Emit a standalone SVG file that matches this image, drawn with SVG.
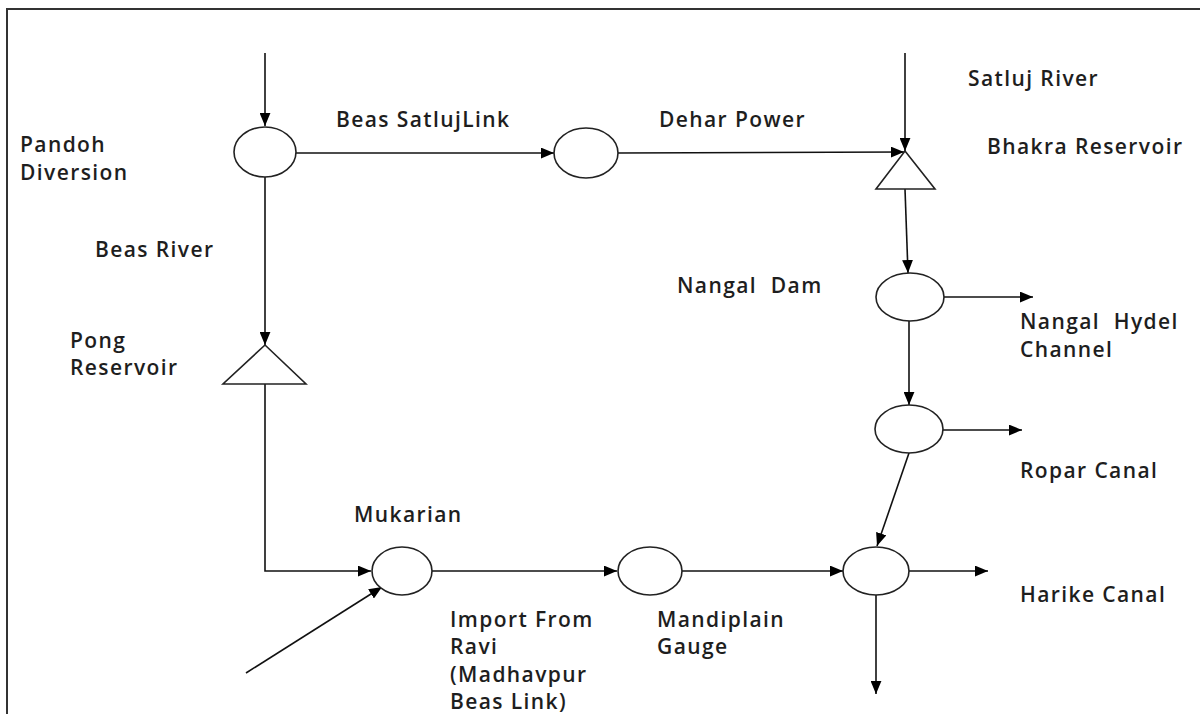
<svg xmlns="http://www.w3.org/2000/svg" width="1200" height="714" viewBox="0 0 1200 714">
<style>
.node{fill:#fff;stroke:#222;stroke-width:1.6}
.edge{fill:none;stroke:#111;stroke-width:1.6}
.lbl{font-family:"Open Sans","Liberation Sans",sans-serif;font-size:21px;font-weight:600;letter-spacing:1.4px;fill:#1e1e1e}
</style>
<defs>
<marker id="ah" viewBox="0 0 12 10" refX="12" refY="5" markerWidth="13" markerHeight="11" markerUnits="userSpaceOnUse" orient="auto">
<path d="M0,0 L12,5 L0,10 Z" fill="#000"/>
</marker>
</defs>
<rect width="1200" height="714" fill="#fff"/>
<g id="frame"><path d="M7,714 V9 H1200" fill="none" stroke="#333" stroke-width="2"/></g>
<g id="connectors">
<line class="edge" x1="265" y1="53" x2="265" y2="126" marker-end="url(#ah)"/>
<line class="edge" x1="296" y1="153" x2="554" y2="153" marker-end="url(#ah)"/>
<line class="edge" x1="618" y1="153" x2="904" y2="152" marker-end="url(#ah)"/>
<line class="edge" x1="905" y1="53" x2="905" y2="151" marker-end="url(#ah)"/>
<line class="edge" x1="905" y1="189" x2="908" y2="273" marker-end="url(#ah)"/>
<line class="edge" x1="944" y1="297" x2="1033" y2="297" marker-end="url(#ah)"/>
<line class="edge" x1="909" y1="321" x2="909" y2="405" marker-end="url(#ah)"/>
<line class="edge" x1="943" y1="430" x2="1022" y2="430" marker-end="url(#ah)"/>
<line class="edge" x1="909" y1="453" x2="877" y2="546" marker-end="url(#ah)"/>
<line class="edge" x1="909" y1="571" x2="988" y2="571" marker-end="url(#ah)"/>
<line class="edge" x1="876" y1="595" x2="876" y2="694" marker-end="url(#ah)"/>
<line class="edge" x1="265" y1="177" x2="265" y2="345" marker-end="url(#ah)"/>
<path class="edge" d="M265,384 V571 H371" marker-end="url(#ah)"/>
<line class="edge" x1="432" y1="571" x2="617" y2="571" marker-end="url(#ah)"/>
<line class="edge" x1="682" y1="571" x2="843" y2="571" marker-end="url(#ah)"/>
<line class="edge" x1="246" y1="673" x2="382" y2="587" marker-end="url(#ah)"/>
</g>
<g id="pandoh"><ellipse class="node" cx="265" cy="152" rx="31" ry="25"/></g>
<g id="dehar"><ellipse class="node" cx="586" cy="153" rx="32" ry="25"/></g>
<g id="bhakra"><polygon class="node" points="905,151 935,189 876,189"/></g>
<g id="nangal"><ellipse class="node" cx="910" cy="297" rx="34" ry="24"/></g>
<g id="ropar"><ellipse class="node" cx="909" cy="429" rx="34" ry="24"/></g>
<g id="harike"><ellipse class="node" cx="876" cy="571" rx="33" ry="24"/></g>
<g id="pong"><polygon class="node" points="265,345 306,384 223,384"/></g>
<g id="mukarian"><ellipse class="node" cx="402" cy="571" rx="30" ry="24"/></g>
<g id="mandiplain"><ellipse class="node" cx="650" cy="571" rx="32" ry="24"/></g>
<g id="labels">
<text class="lbl" x="20" y="152">Pandoh</text>
<text class="lbl" x="20" y="180">Diversion</text>
<text class="lbl" x="336" y="127">Beas SatlujLink</text>
<text class="lbl" x="659" y="127">Dehar Power</text>
<text class="lbl" x="968" y="86">Satluj River</text>
<text class="lbl" x="987" y="154">Bhakra Reservoir</text>
<text class="lbl" x="95" y="257">Beas River</text>
<text class="lbl" x="677" y="293" xml:space="preserve">Nangal  Dam</text>
<text class="lbl" x="1020" y="329" xml:space="preserve">Nangal  Hydel</text>
<text class="lbl" x="1020" y="357">Channel</text>
<text class="lbl" x="70" y="348">Pong</text>
<text class="lbl" x="70" y="375">Reservoir</text>
<text class="lbl" x="1020" y="478">Ropar Canal</text>
<text class="lbl" x="354" y="522">Mukarian</text>
<text class="lbl" x="1020" y="602">Harike Canal</text>
<text class="lbl" x="450" y="627">Import From</text>
<text class="lbl" x="450" y="654">Ravi</text>
<text class="lbl" x="450" y="682">(Madhavpur</text>
<text class="lbl" x="450" y="709">Beas Link)</text>
<text class="lbl" x="657" y="627">Mandiplain</text>
<text class="lbl" x="657" y="654">Gauge</text>
</g>
</svg>
